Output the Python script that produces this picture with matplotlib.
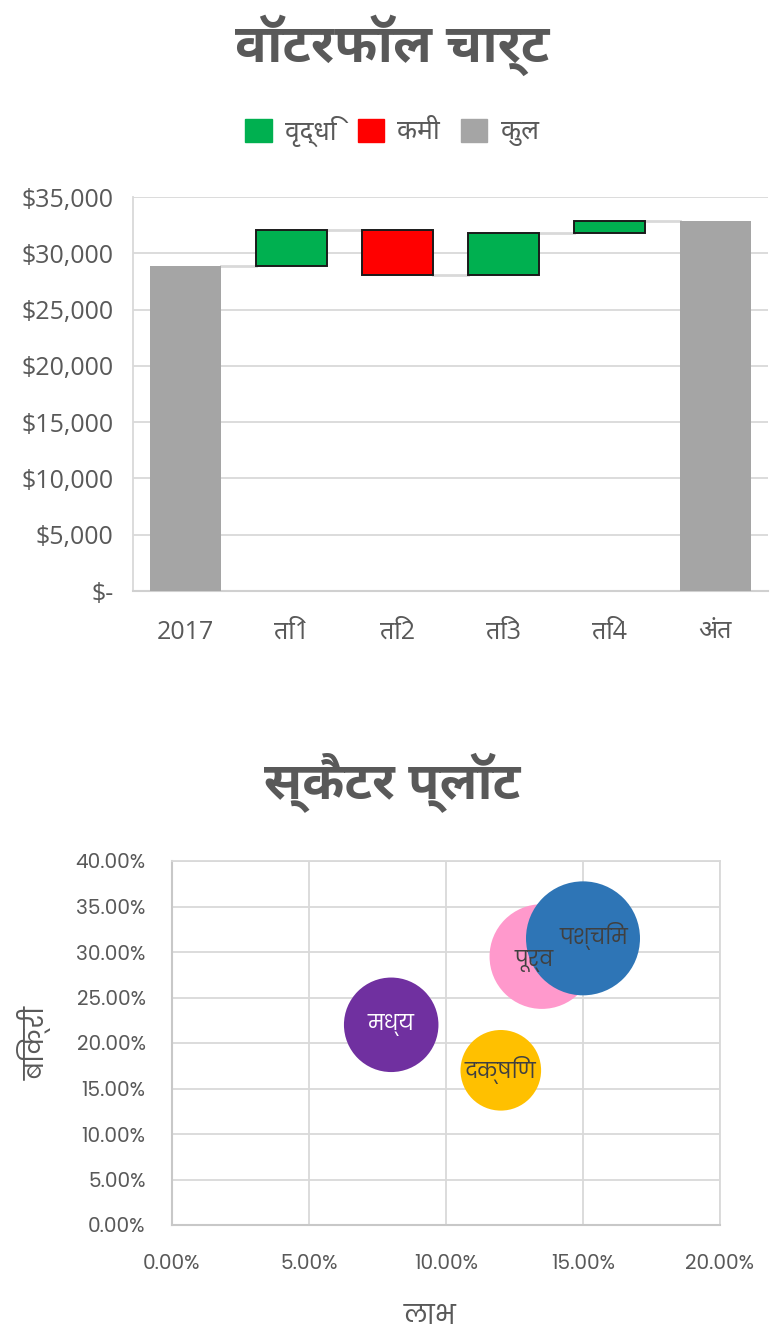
import numpy as np
import matplotlib
matplotlib.use("Agg")
import matplotlib.pyplot as plt
from matplotlib.patches import Patch
from matplotlib.ticker import FuncFormatter, MultipleLocator

# waterfall data
wf_cats = ["2017", "ति1", "ति2", "ति3", "ति4", "अंत"]
wf_start = 28900
wf_changes = [3200, -4000, 3700, 1100]
wf_end = 32900
legend_labels = ["वृद्धि", "कमी", "कुल"]

# scatter / bubble data
regions = ["मध्य", "दक्षिण", "पूर्व", "पश्चिम"]
profit = [0.08, 0.12, 0.135, 0.15]
sales = [0.22, 0.17, 0.295, 0.315]
bubble_val = [22, 16, 27, 32]
bubble_col = ["#7030a0", "#ffc000", "#ff99cc", "#2e75b6"]
label_col = ["white", "#404040", "#404040", "#404040"]

TXT = "#595959"
GRID = "#d9d9d9"

HINDI = ["Noto Sans Devanagari UI", "DejaVu Sans"]
POP = ["Poppins", "Noto Sans Devanagari UI", "DejaVu Sans"]
plt.rcParams["font.family"] = ["Open Sans", "Noto Sans Devanagari UI", "DejaVu Sans"]

fig = plt.figure(figsize=(7.84, 13.37), dpi=100)
H = 1337.0

# ---------- waterfall ----------
ax = fig.add_axes([132.7 / 784, 1 - 591 / H, (768 - 132.7) / 784, (591 - 197) / H])
x = np.arange(len(wf_cats))
bw = 0.67
levels = [wf_start]
for c in wf_changes:
    levels.append(levels[-1] + c)

ax.bar(x[0], wf_start, width=bw, color="#a5a5a5", zorder=3)
ax.bar(x[-1], wf_end, width=bw, color="#a5a5a5", zorder=3)
for i, c in enumerate(wf_changes):
    lo = min(levels[i], levels[i + 1])
    ax.bar(x[i + 1], abs(c), bottom=lo, width=bw,
           color="#00b050" if c > 0 else "#ff0000",
           edgecolor="#1a1a1a", linewidth=1.4, zorder=3)

# connector lines between bars
for i in range(len(wf_cats) - 1):
    lv = levels[i] if i < len(levels) else wf_end
    ax.plot([x[i] + bw / 2, x[i + 1] - bw / 2], [lv, lv], color=GRID, lw=2, zorder=2)

ax.set_xlim(-0.5, len(wf_cats) - 0.5)
ax.set_ylim(0, 35000)
ax.yaxis.set_major_locator(MultipleLocator(5000))
ax.yaxis.set_major_formatter(FuncFormatter(lambda v, p: "$-" if v == 0 else "${:,.0f}".format(v)))
ax.grid(axis="y", color=GRID, lw=1.3, zorder=0)
ax.set_axisbelow(True)
for s in ["top", "right"]:
    ax.spines[s].set_visible(False)
ax.spines["left"].set_color(GRID)
ax.spines["left"].set_linewidth(1.3)
ax.spines["bottom"].set_color("#d0d0d0")
ax.spines["bottom"].set_linewidth(1.5)
ax.tick_params(length=0, colors=TXT, labelsize=18)
ax.tick_params(axis="y", pad=14)
ax.tick_params(axis="x", pad=21)
ax.set_xticks(x)
ax.set_xticklabels(wf_cats)

fig.text(0.5, 1 - 45 / H, "वॉटरफॉल चार्ट", ha="center", va="center",
         fontsize=38, fontweight="bold", color=TXT, family=HINDI)
handles = [Patch(color=c) for c in ["#00b050", "#ff0000", "#a5a5a5"]]
fig.legend(handles, legend_labels, loc="center", bbox_to_anchor=(0.5, 1 - 131 / H),
           ncol=3, frameon=False, labelcolor=TXT,
           handlelength=1.0, handleheight=1.0, handletextpad=0.5, columnspacing=0.8,
           prop={"family": HINDI, "size": 19})

# ---------- bubble scatter ----------
ax2 = fig.add_axes([172 / 784, 1 - 1225 / H, (720 - 172) / 784, (1225 - 861) / H])
sizes = np.array(bubble_val) * 210.5
ax2.scatter(profit, sales, s=sizes, c=bubble_col, zorder=3, linewidths=0)
# small nudges so the two overlapping labels don't collide
nudge = [(0, 0), (0, 0), (-6, -3), (8, 2)]
for i, r in enumerate(regions):
    ax2.annotate(r, (profit[i], sales[i]), xytext=nudge[i], textcoords="offset points",
                 ha="center", va="center", fontsize=15,
                 color=label_col[i], zorder=4, family=POP)

ax2.set_xlim(0, 0.20)
ax2.set_ylim(0, 0.40)
ax2.xaxis.set_major_locator(MultipleLocator(0.05))
ax2.yaxis.set_major_locator(MultipleLocator(0.05))
pct = FuncFormatter(lambda v, p: "{:.2f}%".format(v * 100))
ax2.xaxis.set_major_formatter(pct)
ax2.yaxis.set_major_formatter(pct)
ax2.grid(True, color=GRID, lw=1.3, zorder=0)
ax2.set_axisbelow(True)
for s in ["top", "right"]:
    ax2.spines[s].set_color(GRID)
    ax2.spines[s].set_linewidth(1.3)
for s in ["left", "bottom"]:
    ax2.spines[s].set_color("#c8c8c8")
    ax2.spines[s].set_linewidth(1.5)
ax2.tick_params(length=0, colors=TXT, labelsize=14.5)
ax2.tick_params(axis="x", pad=21)
ax2.tick_params(axis="y", pad=19)
for lb in ax2.get_xticklabels() + ax2.get_yticklabels():
    lb.set_family(POP)

fig.text(0.5, 1 - 783 / H, "स्कैटर प्लॉट", ha="center", va="center",
         fontsize=37, fontweight="bold", color=TXT, family=HINDI)
fig.text(35 / 784, 1 - 1043 / H, "बिक्री", ha="center", va="center", rotation=90,
         fontsize=19, color=TXT, family=POP)
fig.text(430 / 784, 1 - 1318 / H, "लाभ", ha="center", va="center",
         fontsize=19, color=TXT, family=POP)

fig.savefig("out.png", dpi=100, facecolor="white")
